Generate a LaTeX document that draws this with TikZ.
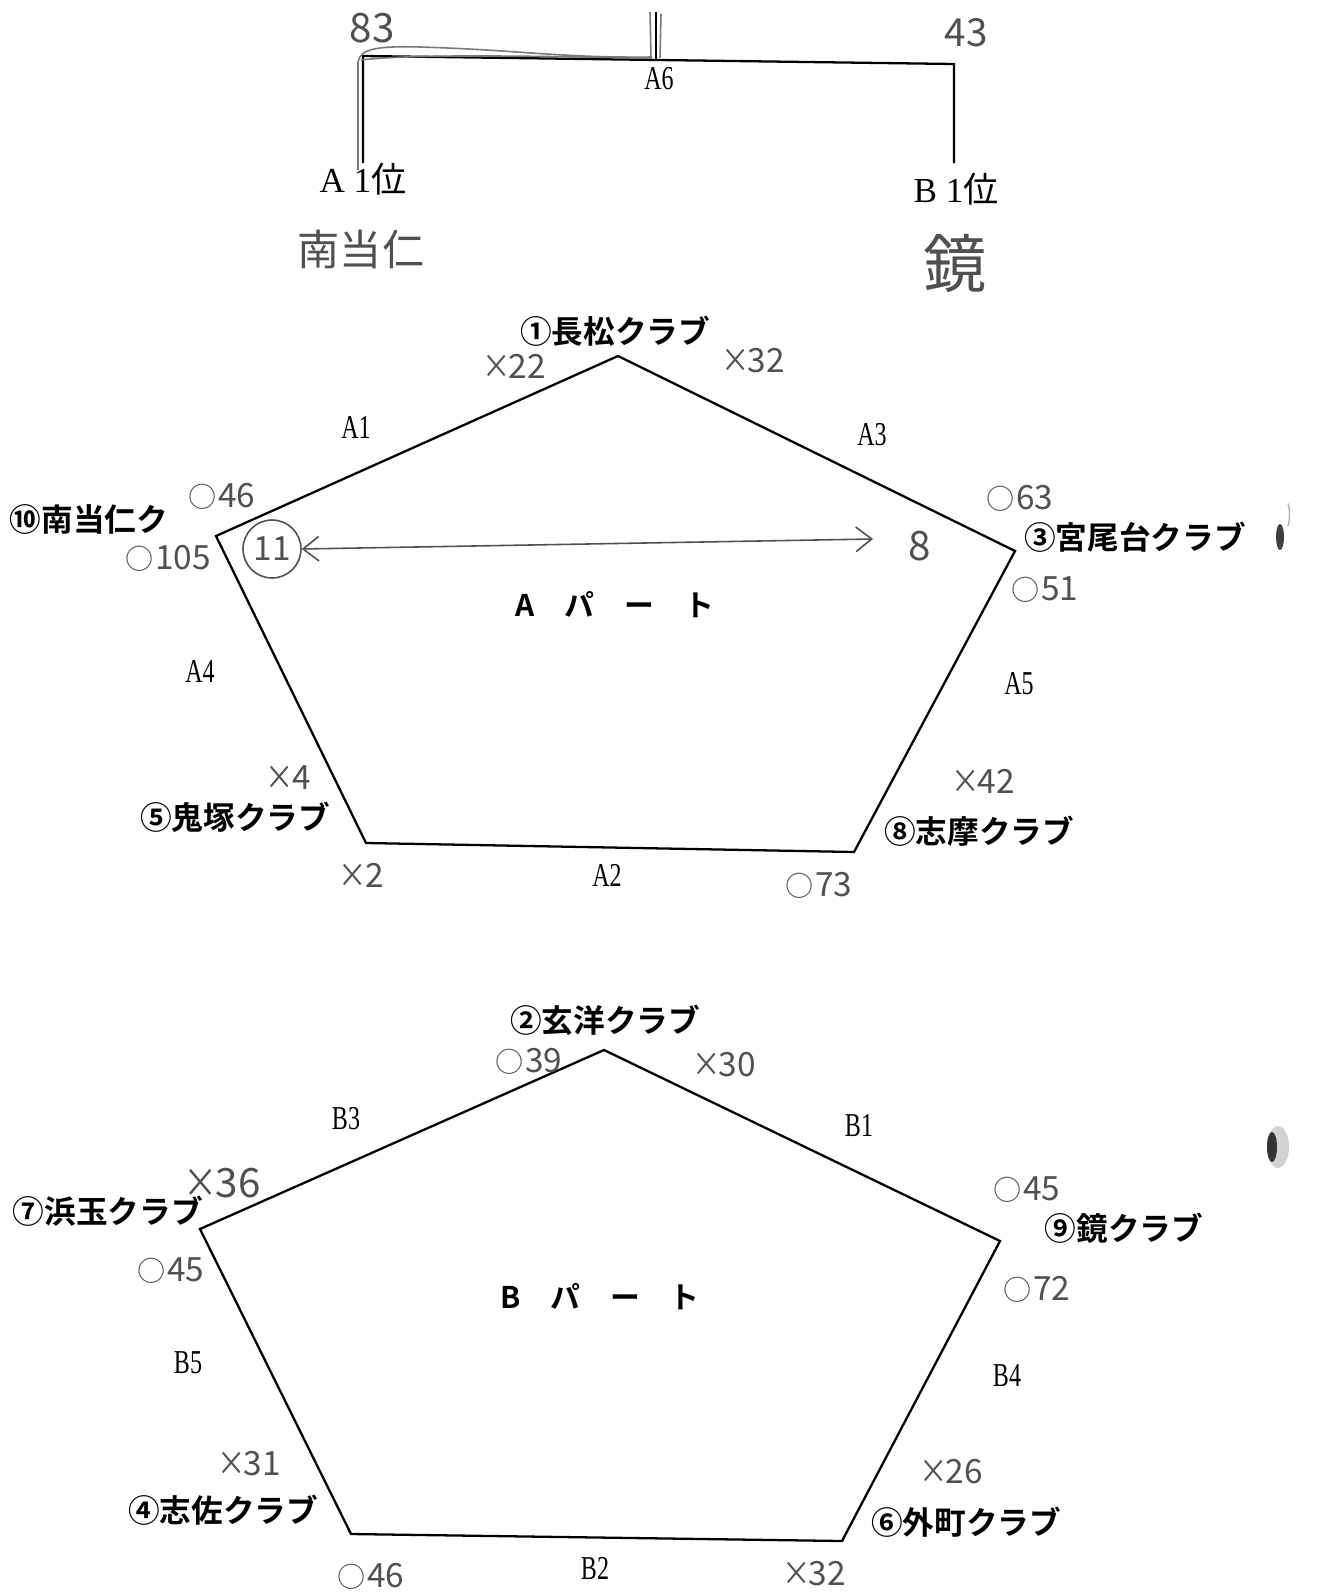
\documentclass[tikz,border=0pt]{standalone}
\usepackage{fontspec}
\usepackage{graphicx}
\usetikzlibrary{arrows.meta}
\setmainfont{Liberation Serif}
\newfontfamily\jp{Noto Sans CJK JP}[BoldFont={Noto Sans CJK JP Bold}]
\newcommand{\nl}[1]{\scalebox{0.72}[1]{#1}}
\newcommand{\winmark}{{\fontsize{16}{16}\selectfont ○}\kern1pt}
\newcommand{\lossmark}{\scalebox{0.85}[1]{×}\kern-1pt}
\definecolor{hw}{RGB}{80,80,80}
\definecolor{hl}{RGB}{120,120,120}
\begin{document}
\begin{tikzpicture}[x=0.02cm,y=-0.02cm,
  edge/.style={line width=1.3pt,line join=miter},
  club/.style={font=\jp\bfseries\fontsize{18}{20}\selectfont,inner sep=0pt},
  lab/.style={font=\fontsize{19}{21}\selectfont,inner sep=0pt},
  toplab/.style={font=\fontsize{20}{22}\selectfont,inner sep=0pt},
  part/.style={font=\jp\bfseries\fontsize{17}{20}\selectfont,inner sep=0pt},
  hand/.style={font=\jp\fontsize{19}{21}\selectfont,text=hw,inner sep=0pt},
  hlstroke/.style={draw=hl,line width=0.9pt}]
\useasboundingbox (0,0) rectangle (1321,1595);
\fill[white] (0,0) rectangle (1321,1595);

% ---------------- top bracket
\coordinate (Lb) at (363,163);
\coordinate (Lt) at (363,56);
\coordinate (Rt) at (954,64);
\coordinate (Rb) at (954,163);
\coordinate (M) at (656,60);
\coordinate (Mt) at (656,12);
\draw[edge] (Lb) -- (Lt) -- (Rt) -- (Rb);
\draw[edge] (M) -- (Mt);
\draw[hlstroke] (358,170) -- (358,62) .. controls (360,48) and (380,46) .. (420,47) .. controls (520,50) and (560,58) .. (652,57);
\draw[hlstroke] (361,60) .. controls (420,53) and (560,57) .. (652,58);
\draw[hlstroke] (651,58) -- (650,12);
\draw[hlstroke] (660,58) -- (661,14);
\node[lab] (A6) at (659,79) {\nl{A6}};
\node[toplab] (A1st) at (363,179) {A 1{\jp 位}};
\node[toplab] (B1st) at (956,189) {B 1{\jp 位}};
\node[hand,font=\jp\fontsize{24}{26}\selectfont] (wA) at (361,249) {南当仁};
\node[hand,font=\jp\fontsize{36}{38}\selectfont] (wB) at (955,264) {鏡};
\node[hand,font=\jp\fontsize{23}{25}\selectfont] (s83) at (372,28) {83};
\node[hand,font=\jp\fontsize{22}{24}\selectfont] (s43) at (966,33) {43};

% ---------------- pentagon A
\coordinate (a1) at (618,356);
\coordinate (a3) at (1015,551);
\coordinate (a8) at (854,852);
\coordinate (a5) at (366,843);
\coordinate (a10) at (216,536);
\draw[edge] (a1) -- (a3) -- (a8) -- (a5) -- (a10) -- cycle;

\node[club] (c1) at (615,331) {①長松クラブ};
\node[club] (c10) at (89,519) {⑩南当仁ク};
\node[club] (c3) at (1135,537) {③宮尾台クラブ};
\node[club] (c5) at (235,817) {⑤鬼塚クラブ};
\node[club] (c8) at (979,831) {⑧志摩クラブ};

\node[lab] (lA1) at (356,427) {\nl{A1}};
\node[lab] (lA3) at (872,435) {\nl{A3}};
\node[lab] (lA4) at (200,671) {\nl{A4}};
\node[lab] (lA5) at (1019,684) {\nl{A5}};
\node[lab] (lA2) at (607,875) {\nl{A2}};
\node[part] (pA) at (615,605) {A\hspace{1.0em}パ\hspace{1.0em}ー\hspace{1.0em}ト};

\node[hand] (hA1) at (514,366) {\lossmark 22};
\node[hand] (hA2) at (753,361) {\lossmark 32};
\node[hand] (hA3) at (222,496) {\winmark 46};
\node[hand] (hA4) at (168,558) {\winmark 105};
\node[hand] (hA5) at (1020,498) {\winmark 63};
\node[hand] (hA6) at (1045,590) {\winmark 51};
\node[hand] (hA7) at (288,778) {\lossmark 4};
\node[hand] (hA8) at (983,781) {\lossmark 42};
\node[hand] (hA9) at (361,875) {\lossmark 2};
\node[hand] (hA10) at (819,885) {\winmark 73};
\node[draw=hw,line width=0.9pt,circle,minimum size=33pt,inner sep=0pt,text=hw,font=\jp\fontsize{19}{21}\selectfont] (c11) at (272,549) {11};
\node[hand,font=\jp\fontsize{23}{25}\selectfont] (n8) at (920,546) {8};
\coordinate (arrEnd) at (873,539);
\draw[draw=hw,line width=0.9pt,{Straight Barb[length=9pt,width=14pt]}-{Straight Barb[length=9pt,width=14pt]}] (c11.east) -- (arrEnd);

% scan marks
\fill[black!75] (1280,537) ellipse (4 and 13);
\draw[gray!60,line width=0.8pt] (1288,526) arc (60:-60:3 and 13);

% ---------------- pentagon B
\coordinate (b2) at (604,1050);
\coordinate (b9) at (1000,1241);
\coordinate (b6) at (842,1541);
\coordinate (b4) at (351,1534);
\coordinate (b7) at (200,1229);
\draw[edge] (b2) -- (b9) -- (b6) -- (b4) -- (b7) -- cycle;

\node[club] (c2) at (605,1020) {②玄洋クラブ};
\node[club,anchor=east] (c7) at (203,1211) {⑦浜玉クラブ};
\node[club] (c9) at (1124,1228) {⑨鏡クラブ};
\node[club] (c4) at (223,1510) {④志佐クラブ};
\node[club] (c6) at (966,1522) {⑥外町クラブ};

\node[lab] (lB3) at (346,1119) {\nl{B3}};
\node[lab] (lB1) at (859,1126) {\nl{B1}};
\node[lab] (lB5) at (188,1363) {\nl{B5}};
\node[lab] (lB4) at (1007,1376) {\nl{B4}};
\node[lab] (lB2) at (595,1568) {\nl{B2}};
\node[part] (pB) at (600,1297) {B\hspace{1.0em}パ\hspace{1.0em}ー\hspace{1.0em}ト};

\node[hand] (hB1) at (529,1061) {\winmark 39};
\node[hand] (hB2) at (724,1065) {\lossmark 30};
\node[hand,font=\jp\fontsize{23}{25}\selectfont] (hB3) at (222,1183) {\lossmark 36};
\node[hand] (hB4) at (171,1271) {\winmark 45};
\node[hand] (hB5) at (1027,1190) {\winmark 45};
\node[hand] (hB6) at (1037,1289) {\winmark 72};
\node[hand] (hB7) at (249,1464) {\lossmark 31};
\node[hand] (hB8) at (951,1472) {\lossmark 26};
\node[hand] (hB9) at (371,1576) {\winmark 46};
\node[hand] (hB10) at (814,1574) {\lossmark 32};

\fill[gray!35] (1278,1147) ellipse (11 and 21);
\fill[black!80] (1272,1147) ellipse (5 and 15);
\end{tikzpicture}
\end{document}
